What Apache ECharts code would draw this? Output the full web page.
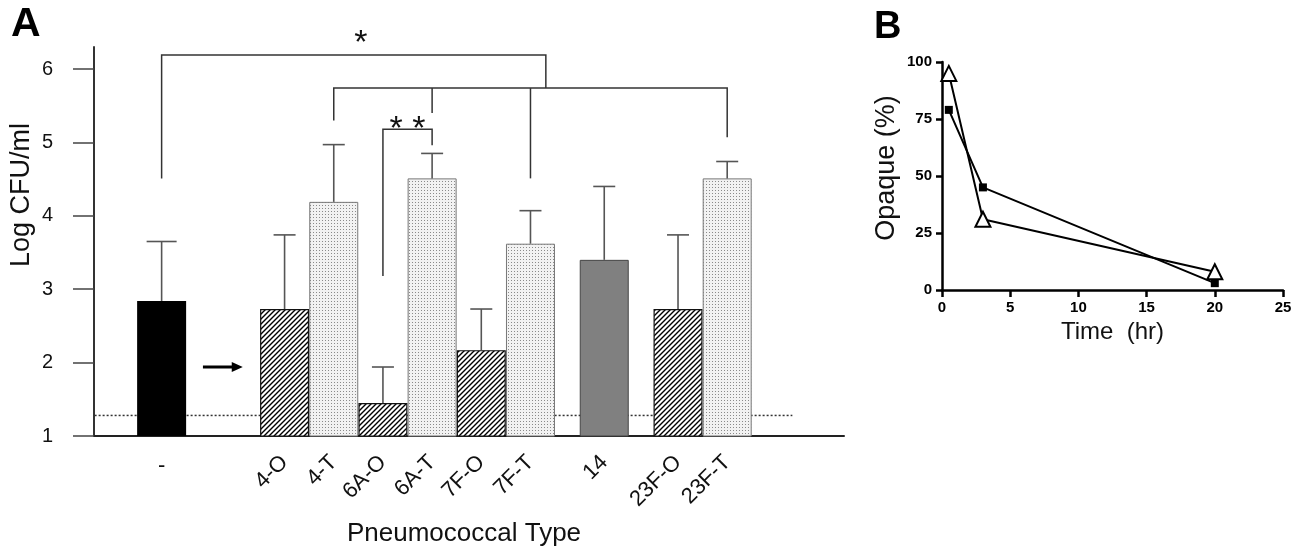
<!DOCTYPE html>
<html>
<head>
<meta charset="utf-8">
<script src="https://cdn.jsdelivr.net/npm/echarts@6/dist/echarts.min.js"></script>
<style>html,body{margin:0;background:#fff}#chart{width:1300px;height:550px}</style>
</head>
<body>
<div id="chart"></div>
<script>
// panel A: log CFU/ml per pneumococcal type
var categories = ['-', '4-O', '4-T', '6A-O', '6A-T', '7F-O', '7F-T', '14', '23F-O', '23F-T'];
var logCfu = [2.84, 2.73, 4.19, 1.45, 4.51, 2.17, 3.62, 3.40, 2.73, 4.51];
var logCfuUpper = [3.65, 3.74, 4.97, 1.94, 4.85, 2.73, 4.07, 4.40, 3.74, 4.74];
var detectionLimit = 1.28;
var yTicksA = [1, 2, 3, 4, 5, 6];

// panel B: % opaque over time
var timeHr = [0.5, 3, 20];
var opaqueSquare = [79, 45, 3];
var opaqueTriangle = [95, 31, 8];

// layout: bars sit on quarter-width slots along the x axis
var nSlots = 61;
var slotOf = [5, 15, 19, 23, 27, 31, 35, 41, 47, 51];
var axisCats = [];
for (var i = 0; i < nSlots; i++) axisCats.push('');
categories.forEach(function (c, k) { axisCats[slotOf[k]] = c; });

// significance brackets, in slot units / log values
var brackets = [
  [[5, 4.51], [5, 6.19], [36.25, 6.19], [36.25, 5.74]],
  [[19, 5.30], [19, 5.74], [51, 5.74], [51, 5.07]],
  [[27, 5.40], [27, 5.74]],
  [[35, 4.51], [35, 5.74]],
  [[23, 3.18], [23, 5.18], [27, 5.18], [27, 4.96]]
];
var stars = [['*', 21.2, 6.35], ['* *', 25.0, 5.17]];
var arrow = [[8.36, 1.94], [11.6, 1.94]];

var FONT = '"Liberation Sans", Arial, Helvetica, sans-serif';

function makePattern(size, draw) {
  var c = document.createElement('canvas');
  c.width = size; c.height = size;
  var ctx = c.getContext('2d');
  draw(ctx);
  return c;
}
var hatch = makePattern(5, function (ctx) {
  ctx.fillStyle = '#fff'; ctx.fillRect(0, 0, 5, 5);
  ctx.strokeStyle = '#000'; ctx.lineWidth = 1.4;
  ctx.beginPath();
  ctx.moveTo(0, 5); ctx.lineTo(5, 0);
  ctx.moveTo(-1, 1); ctx.lineTo(1, -1);
  ctx.moveTo(4, 6); ctx.lineTo(6, 4);
  ctx.stroke();
});
var stipple = makePattern(3, function (ctx) {
  ctx.fillStyle = '#f2f2f2'; ctx.fillRect(0, 0, 3, 3);
  ctx.fillStyle = '#8a8a8a'; ctx.fillRect(1, 1, 1, 1);
});

function barStyle(name) {
  if (name === '-') return { color: '#000' };
  if (name === '14') return { color: '#808080', borderColor: '#444', borderWidth: 1 };
  if (/-O$/.test(name)) return { color: { image: hatch, repeat: 'repeat' }, borderColor: '#111', borderWidth: 1.2 };
  return { color: { image: stipple, repeat: 'repeat' }, borderColor: '#777', borderWidth: 1 };
}

var barData = [];
for (var s = 0; s < nSlots; s++) barData.push(null);
categories.forEach(function (c, k) {
  barData[slotOf[k]] = { value: logCfu[k], itemStyle: barStyle(c) };
});

var errData = categories.map(function (c, k) { return [slotOf[k], logCfu[k], logCfuUpper[k]]; });

var chart = echarts.init(document.getElementById('chart'));
chart.setOption({
  animation: false,
  backgroundColor: '#fff',
  textStyle: { fontFamily: FONT },
  grid: [
    { left: 94, top: 47, width: 750, height: 389, outerBoundsMode: 'none' },
    { left: 942, top: 62, width: 341, height: 228, outerBoundsMode: 'none' }
  ],
  graphic: [
    { type: 'text', x: 11, y: 4, style: { text: 'A', fontSize: 41, fontWeight: 'bold', fontFamily: FONT, fill: '#000' } },
    { type: 'text', x: 874, y: 9, style: { text: 'B', fontSize: 38, fontWeight: 'bold', fontFamily: FONT, fill: '#000' } },
    { type: 'text', x: 22, y: 195, rotation: Math.PI / 2,
      style: { text: 'Log CFU/ml', fontSize: 27, fontFamily: FONT, fill: '#111', align: 'center', verticalAlign: 'middle' } },
    { type: 'text', x: 887, y: 168, rotation: Math.PI / 2,
      style: { text: 'Opaque (%)', fontSize: 27, fontFamily: FONT, fill: '#111', align: 'center', verticalAlign: 'middle' } }
  ],
  xAxis: [
    {
      type: 'category', gridIndex: 0, position: 'bottom', data: axisCats,
      name: 'Pneumococcal Type', nameLocation: 'middle', nameGap: 85, nameMoveOverlap: false,
      nameTextStyle: { fontSize: 26, color: '#111', fontFamily: FONT, padding: [0, 10, 0, 0] },
      axisLine: { onZero: false, lineStyle: { color: '#222', width: 2 } },
      axisTick: { alignWithLabel: true, length: 5, lineStyle: { color: '#444', width: 1.2 },
        interval: function (idx, val) { return val !== ''; } },
      axisLabel: { rotate: 45, fontSize: 22, color: '#111', margin: 23, fontFamily: FONT,
        interval: function (idx, val) { return val !== '' && val !== '-'; } },
      splitLine: { show: false }
    },
    {
      type: 'category', gridIndex: 0, position: 'bottom', data: axisCats,
      axisLine: { show: false, onZero: false }, axisTick: { show: false },
      axisLabel: { rotate: 0, fontSize: 22, color: '#111', margin: 19, fontFamily: FONT,
        interval: function (idx, val) { return val === '-'; } },
      splitLine: { show: false }
    },
    { type: 'value', gridIndex: 0, min: -0.5, max: nSlots - 0.5, show: false },
    {
      type: 'value', gridIndex: 1, min: 0, max: 25, interval: 5,
      name: 'Time  (hr)', nameLocation: 'middle', nameGap: 30, nameMoveOverlap: false,
      nameTextStyle: { fontSize: 24, color: '#111', fontFamily: FONT },
      axisLine: { onZero: false, lineStyle: { color: '#000', width: 2.5 } },
      axisTick: { show: true, length: 7, lineStyle: { color: '#000', width: 2.5 } },
      axisLabel: { fontSize: 15, fontWeight: 'bold', color: '#000', margin: 10, fontFamily: FONT },
      splitLine: { show: false }
    }
  ],
  yAxis: [
    {
      type: 'value', gridIndex: 0, min: 1, max: 6.3,
      axisLine: { show: true, onZero: false, lineStyle: { color: '#333', width: 2 } },
      axisTick: { show: true, length: 21, customValues: yTicksA, lineStyle: { color: '#444', width: 1.5 } },
      axisLabel: { customValues: yTicksA, fontSize: 20, color: '#111', margin: 41, fontFamily: FONT },
      splitLine: { show: false }
    },
    {
      type: 'value', gridIndex: 1, min: 0, max: 100, interval: 25,
      axisLine: { show: true, onZero: false, lineStyle: { color: '#000', width: 2.5 } },
      axisTick: { show: true, length: 6, lineStyle: { color: '#000', width: 2.5 } },
      axisLabel: { fontSize: 15, fontWeight: 'bold', color: '#000', margin: 10, fontFamily: FONT },
      splitLine: { show: false }
    }
  ],
  series: [
    {
      // limit of detection (dotted)
      type: 'custom', xAxisIndex: 2, yAxisIndex: 0, z: 1, silent: true,
      data: [[-0.45, detectionLimit, 56.3]],
      renderItem: function (params, api) {
        var a = api.coord([api.value(0), api.value(1)]);
        var b = api.coord([api.value(2), api.value(1)]);
        return { type: 'line', shape: { x1: a[0], y1: a[1], x2: b[0], y2: b[1] },
          style: { stroke: '#333', lineWidth: 1.5, lineDash: [2, 2] } };
      }
    },
    {
      type: 'bar', xAxisIndex: 0, yAxisIndex: 0, z: 2, barWidth: 49, silent: true,
      data: barData
    },
    {
      // upper error bars
      type: 'custom', xAxisIndex: 2, yAxisIndex: 0, z: 3, silent: true,
      data: errData,
      renderItem: function (params, api) {
        var base = api.coord([api.value(0), api.value(1)]);
        var top = api.coord([api.value(0), api.value(2)]);
        var half = categories[params.dataIndex] === '-' ? 15 : 11;
        var st = { stroke: '#555', lineWidth: 1.6 };
        return { type: 'group', children: [
          { type: 'line', shape: { x1: base[0], y1: base[1], x2: top[0], y2: top[1] }, style: st },
          { type: 'line', shape: { x1: top[0] - half, y1: top[1], x2: top[0] + half, y2: top[1] }, style: st }
        ] };
      }
    },
    {
      // significance brackets
      type: 'custom', xAxisIndex: 2, yAxisIndex: 0, z: 3, silent: true,
      data: brackets.map(function (b) { return b[0]; }),
      renderItem: function (params, api) {
        var pts = brackets[params.dataIndex].map(function (p) { return api.coord(p); });
        return { type: 'polyline', shape: { points: pts }, style: { stroke: '#333', lineWidth: 1.5, fill: null } };
      }
    },
    {
      type: 'custom', xAxisIndex: 2, yAxisIndex: 0, z: 3, silent: true,
      data: stars.map(function (s) { return [s[1], s[2]]; }),
      renderItem: function (params, api) {
        var p = api.coord([api.value(0), api.value(1)]);
        return { type: 'text', x: p[0], y: p[1],
          style: { text: stars[params.dataIndex][0], fontSize: 34, fontFamily: FONT, fill: '#111',
            align: 'center', verticalAlign: 'middle' } };
      }
    },
    {
      type: 'custom', xAxisIndex: 2, yAxisIndex: 0, z: 3, silent: true,
      data: [[arrow[0][0], arrow[0][1], arrow[1][0]]],
      renderItem: function (params, api) {
        var a = api.coord([api.value(0), api.value(1)]);
        var b = api.coord([api.value(2), api.value(1)]);
        return { type: 'group', children: [
          { type: 'line', shape: { x1: a[0], y1: a[1], x2: b[0] - 8, y2: b[1] }, style: { stroke: '#000', lineWidth: 3 } },
          { type: 'polygon', shape: { points: [[b[0], b[1]], [b[0] - 11, b[1] - 5], [b[0] - 11, b[1] + 5]] }, style: { fill: '#000' } }
        ] };
      }
    },
    {
      type: 'line', xAxisIndex: 3, yAxisIndex: 1, z: 3, silent: true,
      data: timeHr.map(function (t, k) { return [t, opaqueSquare[k]]; }),
      symbol: 'rect', symbolSize: 8, showAllSymbol: true,
      lineStyle: { color: '#000', width: 2 },
      itemStyle: { color: '#000', borderWidth: 0 }
    },
    {
      type: 'line', xAxisIndex: 3, yAxisIndex: 1, z: 4, silent: true,
      data: timeHr.map(function (t, k) { return [t, opaqueTriangle[k]]; }),
      symbol: 'triangle', symbolSize: 15, showAllSymbol: true,
      lineStyle: { color: '#000', width: 2 },
      itemStyle: { color: '#fff', borderColor: '#000', borderWidth: 2 }
    }
  ]
});
</script>
</body>
</html>
